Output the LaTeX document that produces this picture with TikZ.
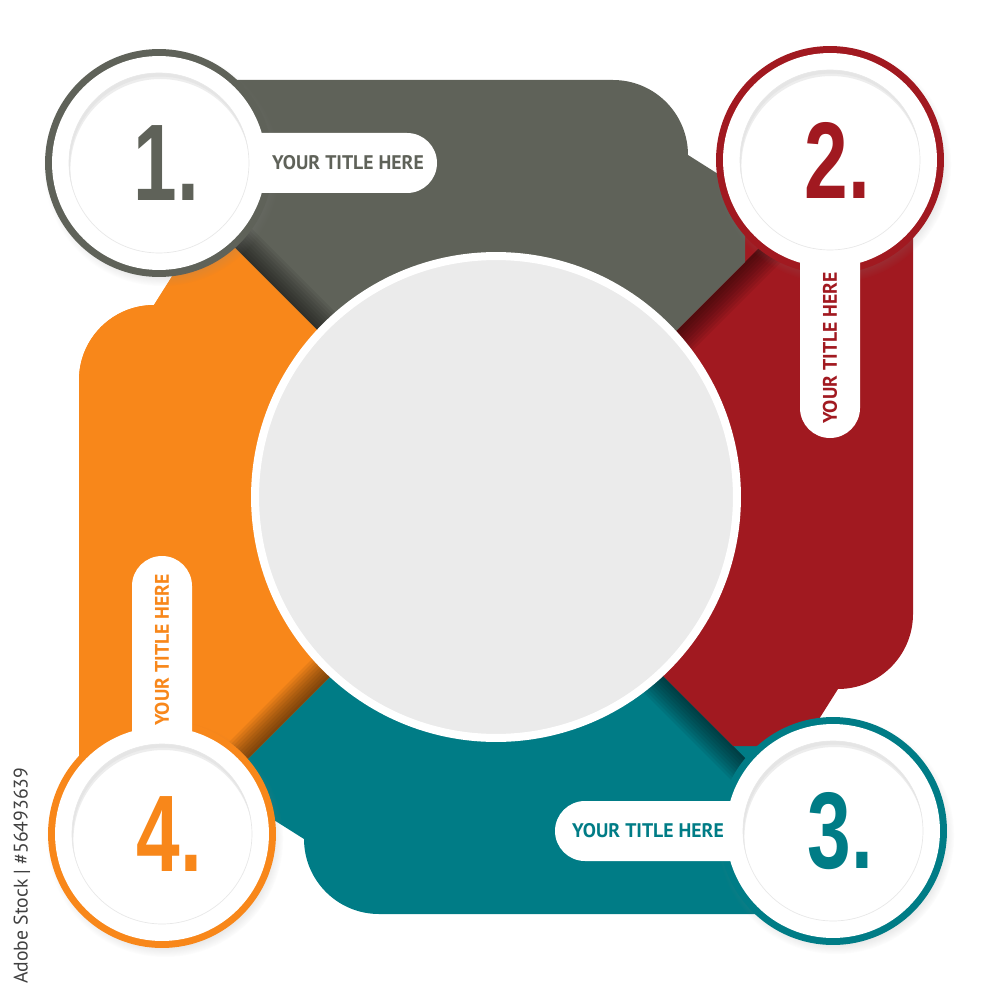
\documentclass[tikz,border=0pt]{standalone}
\usepackage{fontspec}
\setmainfont{PT Sans}
\newfontfamily\numfont[FakeStretch=0.72]{Liberation Sans}
\usetikzlibrary{calc,shadows}

\definecolor{bandgray}{HTML}{5F6259}
\definecolor{bandred}{HTML}{A11920}
\definecolor{bandteal}{HTML}{007C86}
\definecolor{bandorange}{HTML}{F8871A}
\definecolor{hubgray}{HTML}{EBEBEB}

% one band, drawn as the top one, centre at the origin
\newcommand{\bandpath}{(-336,-417) -- (117,-417) arc[start angle=90, end angle=0, radius=1.5cm] -- (249,-306) -- (249,13) -- (-27,13) -- (-336,-296) -- cycle}

\tikzset{
  ring/.style={circle, inner sep=0pt, minimum size=4.56cm,
    circular drop shadow={shadow xshift=1.5pt, shadow yshift=-2.5pt, shadow scale=1.04, opacity=.3}},
  whitedisc/.style={circle, fill=white, inner sep=0pt, minimum size=4.28cm},
  numdisc/.style={circle, fill=white, draw=black!9, line width=0.4pt, inner sep=0pt, minimum size=3.6cm,
    path picture={
      \draw[black!7, line width=0.36cm] ([xshift=0.8pt,yshift=-3.4pt]path picture bounding box.center) circle[radius=1.98cm];
      \draw[black!10, line width=0.24cm] ([xshift=0.5pt,yshift=-2pt]path picture bounding box.center) circle[radius=1.92cm];}},
  numtext/.style={font=\numfont\bfseries\fontsize{62}{62}\selectfont},
  titletext/.style={font=\bfseries\fontsize{11.2}{12}\selectfont},
  pill/.style={fill=white, rounded corners=0.6cm},
}

\begin{document}
\begin{tikzpicture}[x=0.02cm, y=-0.02cm]
  \useasboundingbox (0,0) rectangle (1000,1000);
  \coordinate (C) at (496,497);
  \coordinate (P) at (497,510);

  % bands, orange first so that each one lies over the next
  \foreach \col/\ang/\vx/\vy in {bandorange/-270/-1/1, bandteal/-180/1/1, bandred/-90/1/-1, bandgray/0/-1/-1}{
    \begin{scope}
      \clip (P) ++({1000*\vy},{-1000*\vx}) -- ++({1000*\vx},{1000*\vy}) -- ++({-2000*\vy},{2000*\vx}) -- ++({-1000*\vx},{-1000*\vy}) -- cycle;
      \clip[shift={(C)}, rotate=\ang] \bandpath;
      \fill[\col] (0,0) rectangle (1000,1000);
      \foreach \s in {2,4,...,18}
        \fill[black, opacity=.065] (P) -- +({700*\vx},{700*\vy}) -- +({700*\vx-\s*\vy},{700*\vy+\s*\vx}) -- +({-\s*\vy},{\s*\vx}) -- cycle;
    \end{scope}
  }
  % orange again, over the start of the grey band
  \begin{scope}
    \clip (0,0) rectangle (1000,512);
    \clip (P) ++(1000,1000) -- ++(-1000,1000) -- ++(-2000,-2000) -- ++(1000,-1000) -- cycle;
    \clip[shift={(C)}, rotate=-270] \bandpath;
    \fill[bandorange] (0,0) rectangle (1000,1000);
  \end{scope}

  \node[circle, fill=hubgray, draw=white, line width=0.16cm, minimum size=9.64cm, inner sep=0pt] (hub) at (C) {};

  % corner circles
  \node[ring, fill=bandgray] (ring1) at (159,163) {};
  \node[whitedisc] (disc1) at (ring1) {};
  \fill[pill] (disc1.center) ++(0,-30) rectangle ++(278,60);
  \node[numdisc, numtext, text=bandgray] (num1) at (disc1) {\kern0.3cm 1.};

  \node[ring, fill=bandred] (ring2) at (830,160) {};
  \node[whitedisc] (disc2) at (ring2) {};
  \fill[pill] (disc2.center) ++(-30,0) rectangle ++(60,278);
  \node[numdisc, numtext, text=bandred] (num2) at (disc2) {\kern0.3cm 2.};

  \node[ring, fill=bandteal] (ring3) at (833,831) {};
  \node[whitedisc] (disc3) at (ring3) {};
  \fill[pill] (disc3.center) ++(0,-30) rectangle ++(-278,60);
  \node[numdisc, numtext, text=bandteal] (num3) at (disc3) {\kern0.3cm 3.};

  \node[ring, fill=bandorange] (ring4) at (162,834) {};
  \node[whitedisc] (disc4) at (ring4) {};
  \fill[pill] (disc4.center) ++(-30,0) rectangle ++(60,-278);
  \node[numdisc, numtext, text=bandorange] (num4) at (disc4) {\kern0.3cm 4.};

  % titles
  \node[titletext, text=bandgray] (title1) at ($(ring1)+(189,0)$) {YOUR TITLE HERE};
  \node[titletext, text=bandred, rotate=90] (title2) at ($(ring2)+(0,188)$) {YOUR TITLE HERE};
  \node[titletext, text=bandteal] (title3) at ($(ring3)+(-185,0)$) {YOUR TITLE HERE};
  \node[titletext, text=bandorange, rotate=90] (title4) at ($(ring4)+(0,-184)$) {YOUR TITLE HERE};

  \node[rotate=90, anchor=west, inner sep=0pt, text=black!75, font=\fontsize{11.2}{12}\selectfont] (stockid) at (22,984) {Adobe Stock | \#56493639};
\end{tikzpicture}
\end{document}
